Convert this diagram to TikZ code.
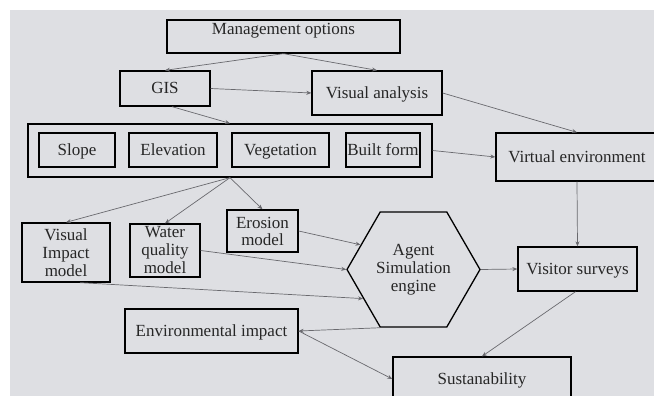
\documentclass[tikz,border=0pt]{standalone}
\usepackage{fontspec}
\setmainfont{Liberation Serif}
\usetikzlibrary{arrows.meta,shapes.geometric}
\definecolor{bgg}{RGB}{222,223,227}
\definecolor{arrc}{RGB}{105,105,110}
\begin{document}
\begin{tikzpicture}[x=1pt,y=-1pt,
  font=\rmfamily\fontsize{17}{18}\selectfont,
  box/.style={draw=black, line width=1.3pt, rectangle, inner sep=0pt, align=center, text=black!85},
  oneline/.style={text height=11pt, text depth=0pt},
  inbox/.style={box, oneline, line width=1.8pt},
  conn/.style={draw=arrc, line width=0.7pt, -{Stealth[length=5pt,width=4pt]}}]
\useasboundingbox (0,0) rectangle (654,396);
\clip (0,0) rectangle (654,396);
\fill[bgg] (10,10) rectangle (654,396);

% top
\node[box, minimum width=233pt, minimum height=33pt] (mgmt) at (283.5,36.5) {};
\node[text=black!85, oneline] (mgmtt) at (283.5,29) {Management options};
\node[box, oneline, minimum width=90pt, minimum height=35pt] (gis) at (165,88.5) {GIS};
\node[box, oneline, minimum width=130pt, minimum height=44pt] (va) at (377,93) {Visual analysis};

% layer box
\node[box, minimum width=404pt, minimum height=53pt] (big) at (230,150.5) {};
\node[inbox, minimum width=76pt, minimum height=34pt] (slope) at (77,150) {Slope};
\node[inbox, minimum width=88pt, minimum height=34pt] (elev) at (173,150) {Elevation};
\node[inbox, minimum width=97pt, minimum height=34pt] (veg) at (280.5,150) {Vegetation};
\node[inbox, minimum width=74pt, minimum height=34pt] (built) at (383,150) {Built form};

\node[box, oneline, minimum width=162pt, minimum height=48pt] (ve) at (577,157) {Virtual environment};

% models
\node[box, minimum width=88pt, minimum height=59pt] (vim) at (66,252.5) {Visual\\Impact\\model};
\node[box, minimum width=70pt, minimum height=53pt] (wq) at (165,250.5) {Water\\quality\\model};
\node[box, minimum width=71pt, minimum height=42pt, font=\rmfamily\fontsize{17}{17}\selectfont] (ero) at (262.5,231) {Erosion\\model};

\node[draw=black, line width=1.3pt, regular polygon, regular polygon sides=6,
      minimum size=133pt, inner sep=0pt, align=center, text=black!85] (hex) at (413.5,269.5)
      {Agent\\Simulation\\engine};

\node[box, oneline, minimum width=119pt, minimum height=44pt] (vs) at (577.5,269) {Visitor surveys};
\node[box, oneline, minimum width=173pt, minimum height=44pt] (env) at (211.5,331) {Environmental impact};
\node[box, oneline, minimum width=178pt, minimum height=44pt] (sus) at (482,379) {Sustanability};

% connectors
\draw[conn] (mgmt.south) -- (gis.north);
\draw[conn] (mgmt.south) -- (va.north);
\draw[conn] (gis.east) -- (va.west);
\draw[conn] ([xshift=7pt]gis.south) -- (big.north);
\draw[conn] (va.east) -- (ve.north);
\draw[conn] (big.east) -- (ve.west);
\draw[conn] (big.south) -- (vim.north);
\draw[conn] (big.south) -- (wq.north);
\draw[conn] (big.south) -- (ero.north);
\draw[conn] (ve.south) -- (vs.north);
\draw[conn] (ero.east) -- (hex.155);
\draw[conn] (wq.east) -- (hex.180);
\draw[conn] ([xshift=14pt]vim.south) -- (hex.210);
\draw[conn] (hex.0) -- (vs.west);
\draw[conn] ([xshift=-2pt]vs.south) -- (sus.north);
\draw[conn] (hex.240) -- (env.east);
\draw[conn] (env.east) -- (sus.west);
\end{tikzpicture}
\end{document}
